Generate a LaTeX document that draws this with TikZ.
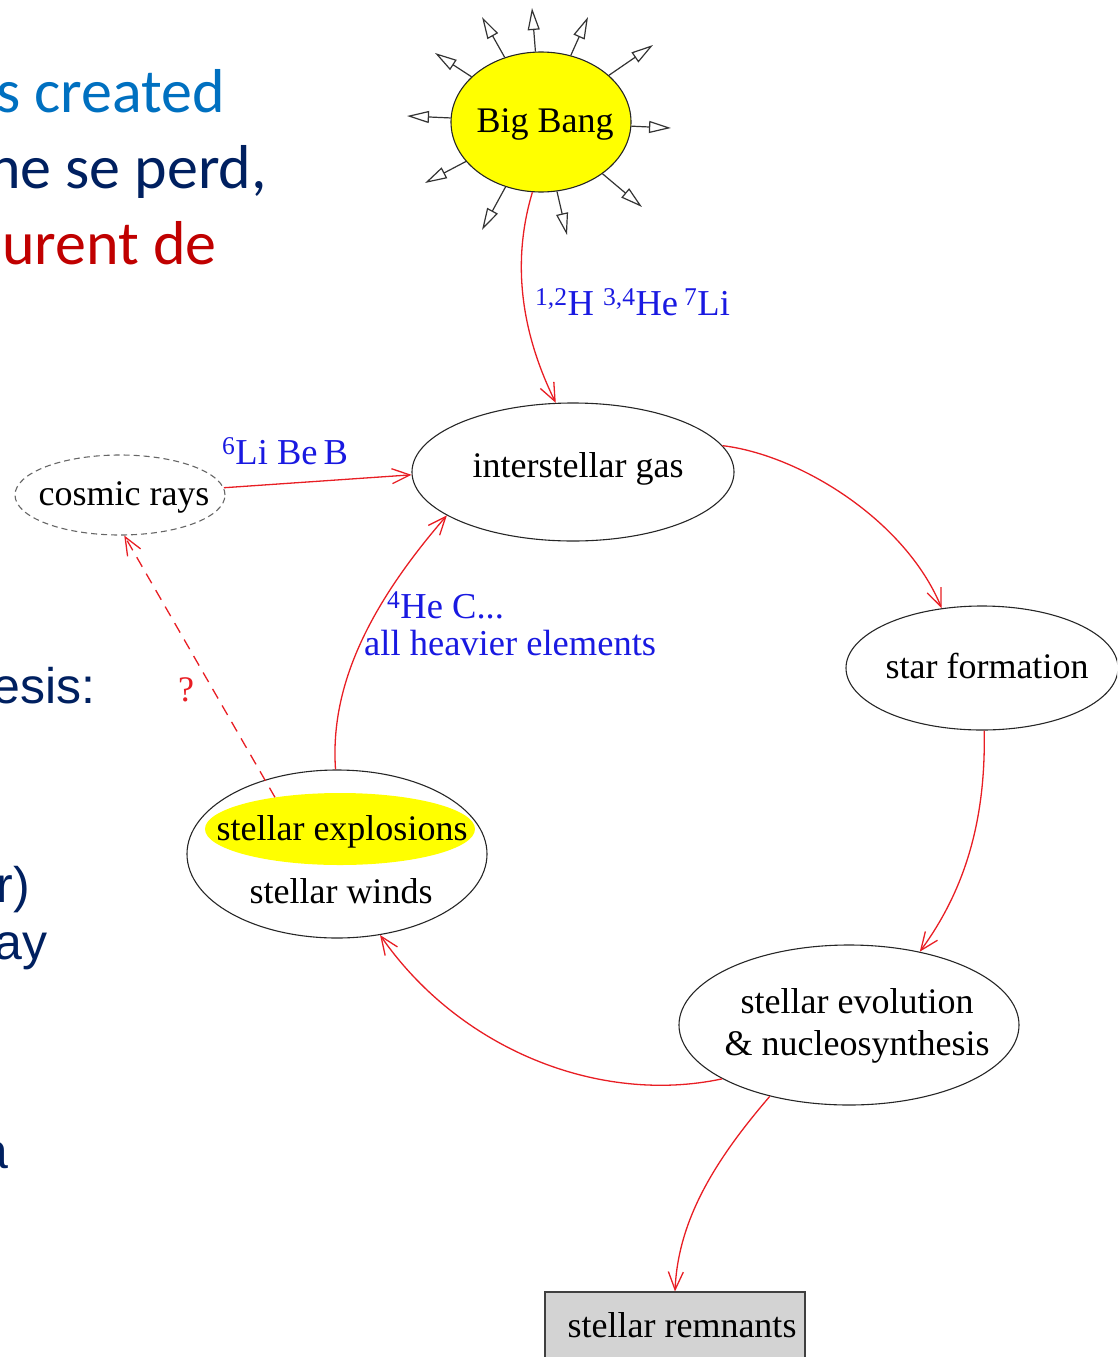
\documentclass[tikz,border=0pt]{standalone}
\usepackage{fontspec}
\setmainfont{Liberation Serif}
\newfontfamily\slidecal{Carlito}
\newfontfamily\slidearial{Liberation Sans}
\usetikzlibrary{arrows.meta,shapes.geometric}
\definecolor{flowred}{RGB}{232,30,36}
\definecolor{lblblue}{RGB}{25,25,225}
\definecolor{slideblue}{RGB}{0,112,192}
\definecolor{slidenavy}{RGB}{0,32,96}
\definecolor{slidered}{RGB}{192,0,0}
\definecolor{bbyellow}{RGB}{255,255,0}
\definecolor{remgray}{RGB}{211,211,211}
\begin{document}
\begin{tikzpicture}[x=1pt,y=-1pt,
  oval/.style={draw=black!85, line width=1.1pt, ellipse, inner sep=0pt},
  txt/.style={font=\fontsize{36}{40}\selectfont, inner sep=0pt, anchor=base},
  lbl/.style={font=\fontsize{36.5}{40}\selectfont, text=lblblue, inner sep=0pt, anchor=base west},
  flow/.style={draw=flowred, line width=1.3pt, -{Straight Barb[length=18pt, width=15pt, line width=1.3pt]}},
  ray/.style={draw=black!80, line width=1.2pt, -{Triangle[open, length=22pt, width=12pt]}},
  slidecalib/.style={font=\slidecal\fontsize{62}{72}\selectfont, inner sep=0pt, anchor=base east},
  slidear/.style={font=\slidearial\fontsize{50}{58}\selectfont, text=slidenavy, inner sep=0pt, anchor=base east},
]
\useasboundingbox (0,0) rectangle (1117,1357);
\clip (0,0) rectangle (1117,1357);

% slide text fragments
\node[slidecalib, text=slideblue] (s1) at (225,112) {s created};
\node[slidecalib, text=slidenavy] (s2) at (267,188) {ne se perd,};
\node[slidecalib, text=slidered] (s3) at (217,264) {urent de};
\node[slidear] (s4) at (96,703) {esis:};
\node[slidear] (s5) at (30,902) {r)};
\node[slidear] (s6) at (48,959) {ay};
\node[slidear] (s7) at (9,1168) {a};

% nodes
\node[oval, fill=bbyellow, minimum width=180pt, minimum height=140pt] (bb) at (541,122) {};
\node[txt] (bbt) at (545,132) {Big Bang};

\node[oval, minimum width=322pt, minimum height=138pt] (ig) at (573,472) {};
\node[txt] (igt) at (578,477) {interstellar gas};

\node[oval, draw=black!60, dash pattern=on 6pt off 4pt, minimum width=210pt, minimum height=80pt] (cr) at (120,495) {};
\node[txt] (crt) at (124,505) {cosmic rays};

\node[oval, minimum width=272pt, minimum height=124pt] (sf) at (982,668) {};
\node[txt] (sft) at (987,678) {star formation};

\node[oval, minimum width=340pt, minimum height=160pt] (se) at (849,1025) {};
\node[txt] (set1) at (857,1013) {stellar evolution};
\node[txt] (set2) at (857,1055) {\&\ nucleosynthesis};

\node[oval, minimum width=300pt, minimum height=168pt] (sw) at (337,854) {};
\node[ellipse, fill=bbyellow, inner sep=0pt, minimum width=270pt, minimum height=72pt] (sx) at (340,829) {};
\node[txt] (sxt) at (342,840) {stellar explosions};
\node[txt] (swt) at (341,903) {stellar winds};

\node[draw=black!75, line width=1.1pt, fill=remgray, inner sep=0pt, minimum width=260pt, minimum height=100pt] (rem) at (675,1342) {};
\node[txt] (remt) at (682,1337) {stellar remnants};

% big bang rays
\coordinate (r1) at (482,17);
\coordinate (r2) at (532,8);
\coordinate (r3) at (588,17);
\coordinate (r4) at (653,45);
\coordinate (r5) at (671,128);
\coordinate (r6) at (642,207);
\coordinate (r7) at (567,235);
\coordinate (r8) at (482,230);
\coordinate (r9) at (425,183);
\coordinate (r10) at (407,116);
\coordinate (r11) at (435,53);
\foreach \r in {r1,r2,r3,r4,r5,r6,r7,r8,r9,r10,r11}{\draw[ray] (bb) -- (\r);}

% flows
\draw[flow] (bb.263) .. controls (512,260) and (520,330) .. (ig.104);
\draw[flow] (cr.4) -- (ig.181);
\draw[flow] (ig.10) .. controls (800,455) and (905,520) .. (sf.124);
\draw[flow] (sf.272) .. controls (986,820) and (965,890) .. (se.46);
\draw[flow] (se.203) .. controls (600,1105) and (460,1050) .. (sw.298);
\draw[flow] (sw.91) .. controls (330,690) and (365,610) .. (ig.199);
\draw[flow] (se.222) .. controls (715,1160) and (678,1220) .. (rem.north);
\draw[flow, dash pattern=on 11pt off 8pt] (sx.154) -- (cr.276);

% labels
\node[lbl] (l1) at (535,315) {\textsuperscript{1,2}H \textsuperscript{3,4}He\,\textsuperscript{7}Li};
\node[lbl] (l2) at (222,464) {\textsuperscript{6}Li Be\,B};
\node[lbl] (l3) at (387,618) {\textsuperscript{4}He C...};
\node[lbl] (l4) at (364,655) {all heavier elements};
\node[font=\fontsize{36}{40}\selectfont, text=flowred, inner sep=0pt, anchor=base west] (q) at (178,701) {?};
\end{tikzpicture}
\end{document}
